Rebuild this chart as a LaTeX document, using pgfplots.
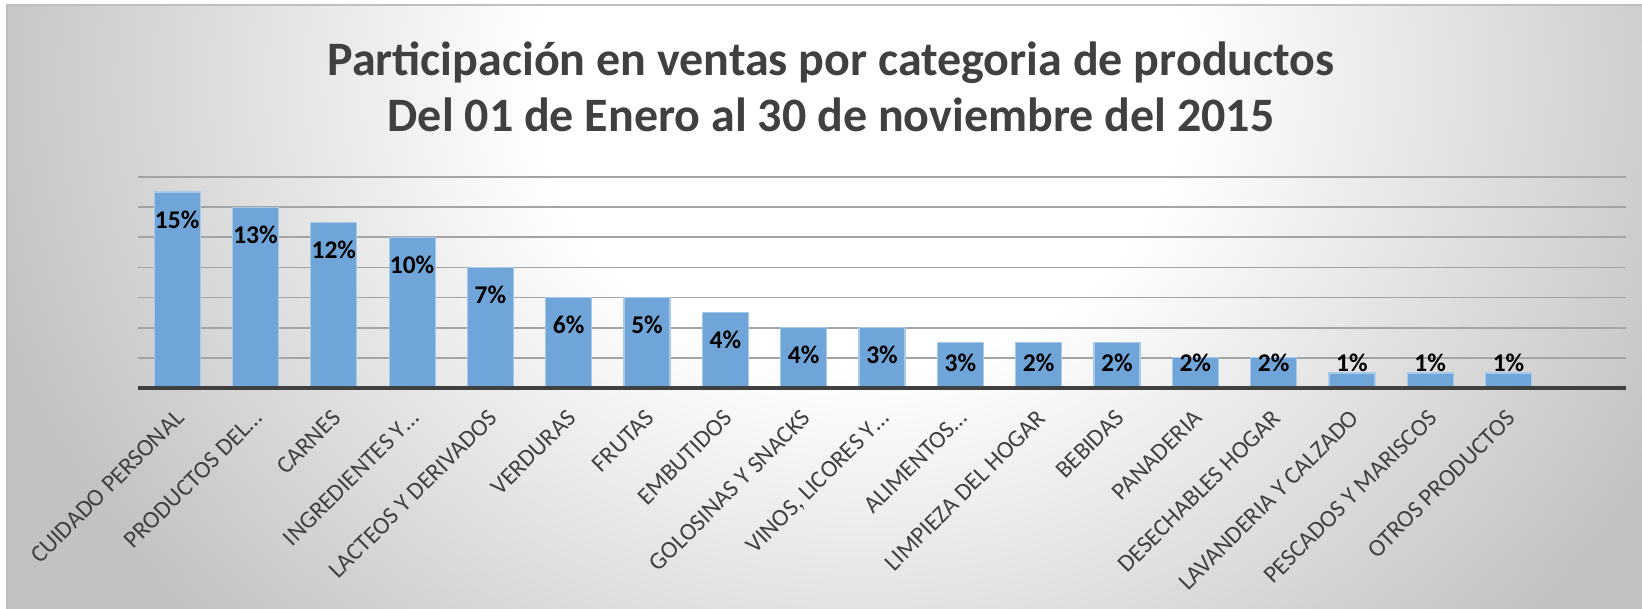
\documentclass[border=0pt]{standalone}
\usepackage{fontspec}
\setmainfont{Carlito}
\usepackage{pgfplots}
\pgfplotsset{compat=1.18}
\definecolor{titlegray}{HTML}{404040}
\definecolor{barblue}{HTML}{6FA5D8}
\definecolor{baredge}{HTML}{A8CAEA}
\definecolor{gridgray}{HTML}{A4A4A4}
\definecolor{bggray}{HTML}{C2C2C2}
\pgfdeclareradialshading{bgshade}{\pgfpoint{0bp}{0bp}}{color(0bp)=(white); color(9bp)=(white); color(25bp)=(bggray); color(50bp)=(bggray)}
\begin{document}
\begin{tikzpicture}
\path[use as bounding box] (0pt,0pt) rectangle (821pt,304.5pt);
\fill[white] (0pt,0pt) rectangle (821pt,304.5pt);
\begin{scope}
\clip (3.5pt,0pt) rectangle (821pt,302pt);
\fill[bggray] (3.5pt,0pt) rectangle (821pt,302pt);
\shade[shading=bgshade] (430pt,264.5pt) ellipse (450pt and 400pt);
\end{scope}
\draw[gray!50, line width=0.8pt] (3.5pt,0pt) -- (3.5pt,302pt) -- (821pt,302pt);
\node[anchor=base, font=\fontsize{24}{29}\selectfont\bfseries, text=titlegray] at (415.5pt,266.5pt) {Participación en ventas por categoria de productos};
\node[anchor=base, font=\fontsize{24}{29}\selectfont\bfseries, text=titlegray] at (415.5pt,238.5pt) {Del 01 de Enero al 30 de noviembre del 2015};
\begin{axis}[
  at={(69pt,110.5pt)}, anchor=south west, scale only axis,
  width=744pt, height=105.5pt,
  xmin=-0.5, xmax=18.5, ymin=0, ymax=7,
  axis line style={draw=none},
  ytick={1,...,7}, yticklabels={}, ymajorgrids,
  grid style={gridgray, line width=0.9pt},
  major tick length=0pt,
  xtick={0,...,17},
  xticklabels={CUIDADO PERSONAL, PRODUCTOS DEL…, CARNES, INGREDIENTES Y…, LACTEOS Y DERIVADOS, VERDURAS, FRUTAS, EMBUTIDOS, GOLOSINAS Y SNACKS, {VINOS, LICORES Y…}, ALIMENTOS…, LIMPIEZA DEL HOGAR, BEBIDAS, PANADERIA, DESECHABLES HOGAR, LAVANDERIA Y CALZADO, PESCADOS Y MARISCOS, OTROS PRODUCTOS},
  x tick label style={xshift=-1.5pt, yshift=-10pt, rotate=45, anchor=north east, inner sep=0pt, font=\fontsize{12.2}{14}\selectfont, text=titlegray},
  xtick style={draw=none}, ytick style={draw=none},
  clip=false,
]
\addplot[ybar, bar width=23pt, fill=barblue, draw=baredge, line width=0.6pt] coordinates {
(0,6.5) (1,6) (2,5.5) (3,5) (4,4) (5,3) (6,3) (7,2.5) (8,2) (9,2) (10,1.5) (11,1.5) (12,1.5) (13,1) (14,1) (15,0.5) (16,0.5) (17,0.5)};
\draw[titlegray, line width=2pt] (axis cs:-0.5,0) -- (axis cs:18.5,0);
\addplot[draw=none, no markers, nodes near coords, point meta=explicit symbolic,
  every node near coord/.append style={anchor=center, font=\fontsize{12.75}{15}\selectfont\bfseries, text=black}] coordinates {
(0,5.59) [15\%] (1,5.09) [13\%] (2,4.59) [12\%] (3,4.09) [10\%] (4,3.09) [7\%] (5,2.09) [6\%] (6,2.09) [5\%] (7,1.59) [4\%] (8,1.09) [4\%] (9,1.09) [3\%] (10,0.83) [3\%] (11,0.83) [2\%] (12,0.83) [2\%] (13,0.83) [2\%] (14,0.83) [2\%] (15,0.83) [1\%] (16,0.83) [1\%] (17,0.83) [1\%]};
\end{axis}
\end{tikzpicture}
\end{document}
